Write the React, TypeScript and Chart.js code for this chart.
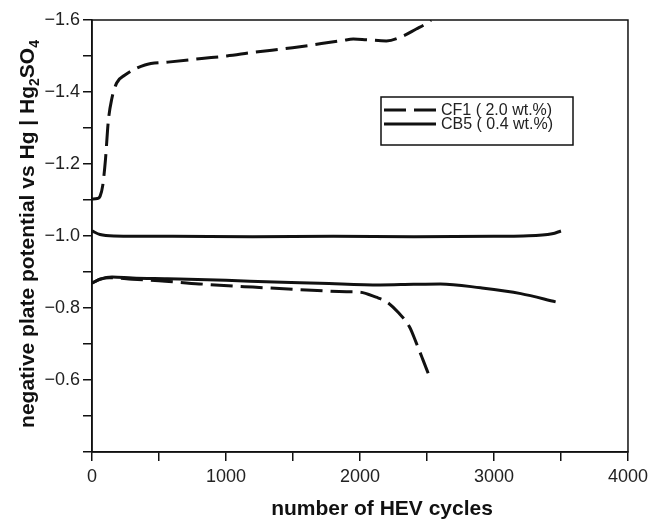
import React, { useEffect, useRef } from "react";
import { Chart, registerables } from "chart.js";

Chart.register(...registerables);

const seriesLabels = ["CF1 ( 2.0 wt.%)", "CB5 ( 0.4 wt.%)"];

// CF1 charge branch (upper dashed)
const cf1UpperX = [0, 40, 60, 80, 100, 122, 147, 184, 246, 395, 566, 819, 1006, 1200, 1497, 1870, 1950, 2049, 2197, 2317, 2420, 2495, 2530];
const cf1UpperY = [-1.103, -1.104, -1.11, -1.14, -1.21, -1.32, -1.38, -1.425, -1.447, -1.475, -1.483, -1.493, -1.5, -1.51, -1.523, -1.543, -1.547, -1.545, -1.542, -1.555, -1.575, -1.59, -1.6];

// CF1 discharge branch (lower dashed)
const cf1LowerX = [0, 60, 130, 300, 500, 800, 1200, 1600, 1900, 2000, 2120, 2200, 2290, 2370, 2420, 2470, 2520];
const cf1LowerY = [-0.869, -0.88, -0.884, -0.88, -0.876, -0.867, -0.858, -0.85, -0.845, -0.844, -0.83, -0.817, -0.786, -0.747, -0.703, -0.656, -0.608];

// CB5 upper solid
const cb5UpperX = [0, 60, 164, 600, 1200, 1800, 2400, 3000, 3218, 3434, 3500];
const cb5UpperY = [-1.014, -1.004, -1.0, -0.999, -0.998, -0.999, -0.998, -0.999, -1.0, -1.006, -1.014];

// CB5 lower solid
const cb5LowerX = [0, 60, 150, 300, 560, 1000, 1360, 1700, 2150, 2400, 2600, 2900, 3200, 3460];
const cb5LowerY = [-0.869, -0.88, -0.886, -0.883, -0.881, -0.877, -0.872, -0.869, -0.864, -0.866, -0.867, -0.856, -0.84, -0.817];

const xMin = 0;
const xMax = 4000;
const yMin = -1.6;
const yMax = -0.4;

const xTitle = "number of HEV cycles";

const toPts = (xs: number[], ys: number[]) => xs.map((x, i) => ({ x, y: ys[i] }));

const DASH = [22, 8];

export default function App() {
  const ref = useRef<HTMLCanvasElement | null>(null);

  useEffect(() => {
    if (!ref.current) return;

    const base = {
      borderColor: "#111",
      borderWidth: 3,
      pointRadius: 0,
      fill: false,
      cubicInterpolationMode: "monotone" as const,
    };

    const framePlugin = {
      id: "frameAndText",
      afterDraw(chart: any) {
        const ctx = chart.ctx;
        const a = chart.chartArea;
        ctx.save();
        // frame
        ctx.strokeStyle = "#111";
        ctx.lineWidth = 1.5;
        ctx.strokeRect(a.left, a.top, a.right - a.left, a.bottom - a.top);

        // legend
        const lx = 381, ly = 97, lw = 192, lh = 48;
        ctx.lineWidth = 1.5;
        ctx.strokeRect(lx, ly, lw, lh);
        const rows = [
          { y: 110, dash: DASH, label: seriesLabels[0] },
          { y: 124, dash: [] as number[], label: seriesLabels[1] },
        ];
        ctx.font = "16px 'Liberation Sans', Arial, sans-serif";
        ctx.textBaseline = "middle";
        ctx.textAlign = "left";
        for (const r of rows) {
          ctx.beginPath();
          ctx.setLineDash(r.dash);
          ctx.lineWidth = 3;
          ctx.moveTo(384, r.y);
          ctx.lineTo(436, r.y);
          ctx.stroke();
          ctx.setLineDash([]);
          ctx.fillStyle = "#222";
          ctx.fillText(r.label, 441, r.y + 1);
        }

        // x title
        ctx.fillStyle = "#111";
        ctx.font = "bold 21px 'Liberation Sans', Arial, sans-serif";
        ctx.textAlign = "center";
        ctx.textBaseline = "alphabetic";
        ctx.fillText(xTitle, 382, 515);

        // y title with subscripts
        const big = "bold 21px 'Liberation Sans', Arial, sans-serif";
        const small = "bold 14px 'Liberation Sans', Arial, sans-serif";
        const parts = [
          { t: "negative plate potential vs Hg | Hg", f: big, dy: 0 },
          { t: "2", f: small, dy: 5 },
          { t: "SO", f: big, dy: 0 },
          { t: "4", f: small, dy: 5 },
        ];
        let total = 0;
        for (const p of parts) {
          ctx.font = p.f;
          total += ctx.measureText(p.t).width;
        }
        ctx.translate(34, 234);
        ctx.rotate(-Math.PI / 2);
        ctx.textAlign = "left";
        let x = -total / 2;
        for (const p of parts) {
          ctx.font = p.f;
          ctx.fillText(p.t, x, p.dy);
          x += ctx.measureText(p.t).width;
        }
        ctx.restore();
      },
    };

    const chart = new Chart(ref.current, {
      type: "line",
      data: {
        datasets: [
          { ...base, label: seriesLabels[0], data: toPts(cf1UpperX, cf1UpperY), borderDash: DASH },
          { ...base, label: seriesLabels[0], data: toPts(cf1LowerX, cf1LowerY), borderDash: DASH },
          { ...base, label: seriesLabels[1], data: toPts(cb5UpperX, cb5UpperY) },
          { ...base, label: seriesLabels[1], data: toPts(cb5LowerX, cb5LowerY) },
        ],
      },
      options: {
        responsive: false,
        animation: false,
        layout: { padding: { top: 20, right: 24, left: 0, bottom: 0 } },
        plugins: { legend: { display: false }, tooltip: { enabled: false } },
        scales: {
          x: {
            type: "linear",
            min: xMin,
            max: xMax,
            afterFit: (s: any) => { s.height = 67; },
            ticks: {
              stepSize: 500,
              padding: 5,
              color: "#222",
              font: { size: 18, family: "'Liberation Sans', Arial, sans-serif" },
              maxRotation: 0,
              callback: (v: any) => (Math.round(v) % 1000 === 0 ? String(Math.round(v)) : ""),
            },
            grid: { drawOnChartArea: false, drawTicks: true, tickLength: 9, color: "#111", lineWidth: 1.5 },
            border: { display: true, color: "#111", width: 1.5 },
          },
          y: {
            type: "linear",
            min: yMin,
            max: yMax,
            reverse: true,
            afterFit: (s: any) => { s.width = 92; },
            ticks: {
              stepSize: 0.1,
              padding: 3,
              color: "#222",
              font: { size: 18, family: "'Liberation Sans', Arial, sans-serif" },
              callback: (v: any) => {
                const k = Math.round(Number(v) * 10);
                if (k % 2 !== 0 || k === -4) return "";
                return (k / 10).toFixed(1).replace("-", "\u2212");
              },
            },
            grid: { drawOnChartArea: false, drawTicks: true, tickLength: 9, color: "#111", lineWidth: 1.5 },
            border: { display: true, color: "#111", width: 1.5 },
          },
        },
      },
      plugins: [framePlugin],
    });

    return () => chart.destroy();
  }, []);

  return (
    <canvas
      ref={ref}
      width={653}
      height={519}
      style={{ position: "fixed", left: 0, top: 0, display: "block", background: "#fff" }}
    />
  );
}
